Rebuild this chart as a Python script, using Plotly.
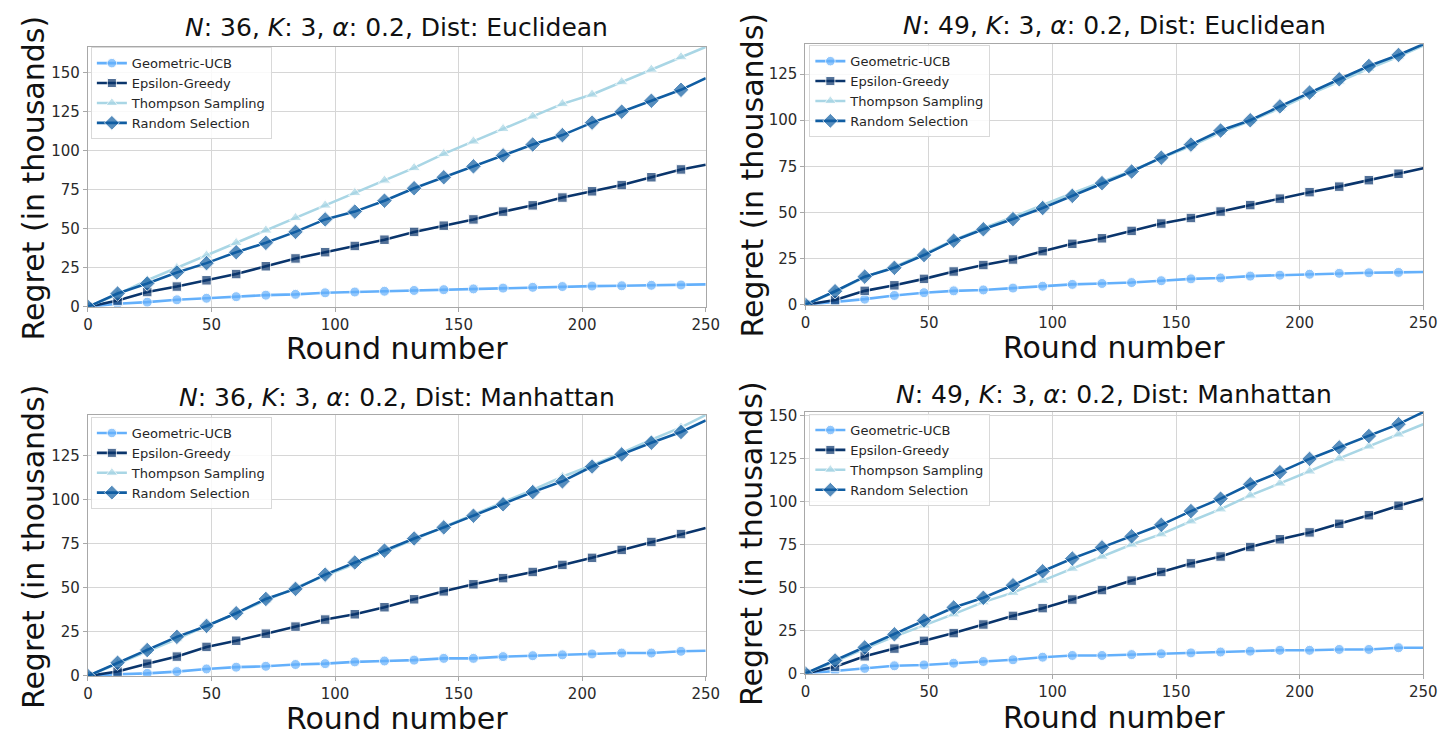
import plotly.graph_objects as go

W, H = 1455, 736

rounds = [0, 12, 24, 36, 48, 60, 72, 84, 96, 108, 120, 132, 144, 156, 168, 180, 192, 204, 216, 228, 240, 250]

series_names = ["Geometric-UCB", "Epsilon-Greedy", "Thompson Sampling", "Random Selection"]

panel_titles = [
    "<i>N</i>: 36, <i>K</i>: 3, <i>α</i>: 0.2, Dist: Euclidean",
    "<i>N</i>: 49, <i>K</i>: 3, <i>α</i>: 0.2, Dist: Euclidean",
    "<i>N</i>: 36, <i>K</i>: 3, <i>α</i>: 0.2, Dist: Manhattan",
    "<i>N</i>: 49, <i>K</i>: 3, <i>α</i>: 0.2, Dist: Manhattan",
]

# Panel 1: N=36 Euclidean
p1_geo = [0, 2, 3, 4.5, 5.5, 6.5, 7.5, 8, 9, 9.5, 10, 10.5, 11, 11.5, 12, 12.5, 13, 13.3, 13.5, 13.8, 14, 14.4]
p1_eps = [0, 4, 9.5, 13, 17, 21, 26, 31, 35, 39, 43, 48, 52, 56, 61, 65, 70, 74, 78, 83, 88, 91]
p1_ts = [0, 8, 17, 25, 33, 41, 49, 57, 65, 73, 81, 89, 98, 106, 114, 122, 130, 136, 144, 152, 160, 166.5]
p1_rnd = [0, 8.5, 15, 22, 28, 35, 41, 48, 56, 61, 68, 76, 83, 90, 97, 104, 110, 118, 125, 132, 139, 146.5]

# Panel 2: N=49 Euclidean
p2_geo = [0, 1.5, 3, 5, 6.5, 7.5, 8, 9, 10, 11, 11.5, 12, 13, 14, 14.5, 15.5, 16, 16.5, 17, 17.3, 17.5, 17.7]
p2_eps = [0, 2.5, 7.5, 10.5, 14, 18, 21.5, 24.5, 29, 33, 36, 40, 44, 47, 50.5, 54, 57.5, 61, 64, 67.5, 71, 74]
p2_ts = [0, 7, 15, 20.5, 27.5, 35, 41.5, 47.5, 54, 60.5, 66.5, 72.5, 79.5, 86, 93.5, 99.5, 106.5, 114, 121, 128, 134.5, 140.5]
p2_rnd = [0, 7.3, 15.2, 20, 26.9, 34.7, 40.9, 46.4, 52.4, 59, 65.9, 72.2, 79.7, 86.8, 94.4, 100, 107.5, 115, 122.2, 129.4, 135.4, 141.2]

# Panel 3: N=36 Manhattan
p3_geo = [0, 1, 1.5, 2.5, 4, 5, 5.5, 6.5, 7, 8, 8.5, 9, 10, 10, 11, 11.5, 12, 12.5, 13, 13, 14, 14.3]
p3_eps = [0, 2.5, 7, 11, 16.5, 20, 24, 28, 32, 35, 39, 43.5, 48, 52, 55.5, 59, 63, 67, 71.5, 76, 80.5, 84]
p3_ts = [0, 7, 14, 21, 28.5, 35.5, 43, 50, 57, 63.5, 70.5, 77.5, 84.5, 91.5, 98.5, 105.5, 113, 119.5, 126.5, 134, 141, 148]
p3_rnd = [0, 7.5, 14.7, 22.2, 28.4, 35.6, 43.7, 49.4, 57.5, 64.4, 71.1, 78, 84.3, 90.9, 97.4, 104.3, 110.4, 118.8, 125.7, 132.3, 138.4, 145]

# Panel 4: N=49 Manhattan
p4_geo = [0, 1.5, 3, 4.5, 5, 6, 7, 8, 9.5, 10.5, 10.5, 11, 11.5, 12, 12.5, 13, 13.5, 13.5, 14, 14, 15, 15]
p4_eps = [0, 4, 10, 14.5, 19, 23.5, 28.5, 33.5, 38, 43, 48.5, 54, 59, 64, 68, 73.5, 78, 82, 87, 92, 97.5, 101.5]
p4_ts = [0, 7, 14.5, 21.5, 28, 34.5, 41.5, 47, 54, 61, 68, 75, 81, 88.5, 95.5, 103.5, 110.5, 117.5, 125, 132, 139, 144.8]
p4_rnd = [0, 7.6, 15.2, 22.8, 30.8, 38.4, 44, 51.3, 59.4, 66.8, 73.3, 79.7, 86.4, 94.4, 101.6, 110, 117, 124.7, 131.4, 138, 144.9, 151.9]

panel_data = [
    [p1_geo, p1_eps, p1_ts, p1_rnd],
    [p2_geo, p2_eps, p2_ts, p2_rnd],
    [p3_geo, p3_eps, p3_ts, p3_rnd],
    [p4_geo, p4_eps, p4_ts, p4_rnd],
]

colors = ["#64b0fb", "#0a356c", "#a9d6e5", "#105da2"]
symbols = ["circle", "square", "triangle-up", "diamond"]
msizes = [10, 9.5, 11, 12]

# plot boxes in pixels: left, right, top, bottom
boxes = [
    (84, 710, 42.7, 307.7),
    (811, 1437, 40, 305.5),
    (84, 710, 418, 684),
    (811, 1437, 415, 681.5),
]
legend_pos = [(87, 43), (815, 41), (87, 420), (815, 417)]
title_y = [23, 21, 400, 397]
xtitle_y = [350, 349, 727, 726]
ytitle_x = [29, 757, 29, 757]

def px_x(v):
    return v / W

def px_y(v):
    return 1 - v / H

fig = go.Figure()
layout = dict(
    width=W, height=H, autosize=False,
    margin=dict(l=0, r=0, t=0, b=0),
    paper_bgcolor="white", plot_bgcolor="white",
    font=dict(family="DejaVu Sans", color="#262626"),
    annotations=[],
)

for i in range(4):
    ax = "" if i == 0 else str(i + 1)
    leg = "legend" if i == 0 else "legend" + str(i + 1)
    l, r, t, b = boxes[i]
    ymax = max(max(s) for s in panel_data[i])
    for k in range(4):
        ys = panel_data[i][k]
        sizes = [msizes[k]] * (len(rounds) - 1) + [0]
        fig.add_trace(go.Scatter(
            x=rounds, y=ys, mode="lines+markers",
            name=series_names[k],
            line=dict(color=colors[k], width=2.6),
            marker=dict(symbol=symbols[k], size=sizes, color=colors[k]),
            xaxis="x" + ax, yaxis="y" + ax, legend=leg,
        ))
    axis_common = dict(
        showgrid=True, gridcolor="#d6d6d6", gridwidth=1,
        showline=True, linecolor="#a8a8a8", linewidth=1, mirror=True,
        ticks="outside", ticklen=4, tickcolor="#a8a8a8",
        tickfont=dict(size=15, color="#2a2a2a", family="DejaVu Sans"),
        zeroline=False,
    )
    layout["xaxis" + ax] = dict(
        axis_common, domain=[px_x(l), px_x(r)], range=[0, 250],
        tickmode="array", tickvals=[0, 50, 100, 150, 200, 250],
        anchor="y" + ax,
    )
    layout["yaxis" + ax] = dict(
        axis_common, domain=[px_y(b), px_y(t)], range=[0, ymax],
        tickmode="array", tickvals=[0, 25, 50, 75, 100, 125, 150],
        anchor="x" + ax,
    )
    lx, ly = legend_pos[i]
    layout[leg] = dict(
        x=px_x(lx), y=px_y(ly), xanchor="left", yanchor="top",
        bgcolor="rgba(255,255,255,0.85)", bordercolor="#d9d9d9", borderwidth=1,
        font=dict(size=13, family="DejaVu Sans", color="#262626"),
        itemwidth=30,
    )
    cx = (l + r) / 2
    layout["annotations"].append(dict(
        text=panel_titles[i], x=px_x(cx), y=px_y(title_y[i]), xref="paper", yref="paper",
        xanchor="center", yanchor="middle", showarrow=False,
        font=dict(size=25, family="DejaVu Sans", color="#111111"),
    ))
    layout["annotations"].append(dict(
        text="Round number", x=px_x(cx), y=px_y(xtitle_y[i]), xref="paper", yref="paper",
        xanchor="center", yanchor="middle", showarrow=False, borderpad=0,
        font=dict(size=30, family="DejaVu Sans", color="#111111"),
    ))
    layout["annotations"].append(dict(
        text="Regret (in thousands)", x=px_x(ytitle_x[i]), y=px_y((t + b) / 2 + 1),
        xref="paper", yref="paper", textangle=-90,
        xanchor="center", yanchor="middle", showarrow=False,
        font=dict(size=30, family="DejaVu Sans", color="#111111"),
    ))

fig.update_layout(**layout)
fig.write_html("out.html")
